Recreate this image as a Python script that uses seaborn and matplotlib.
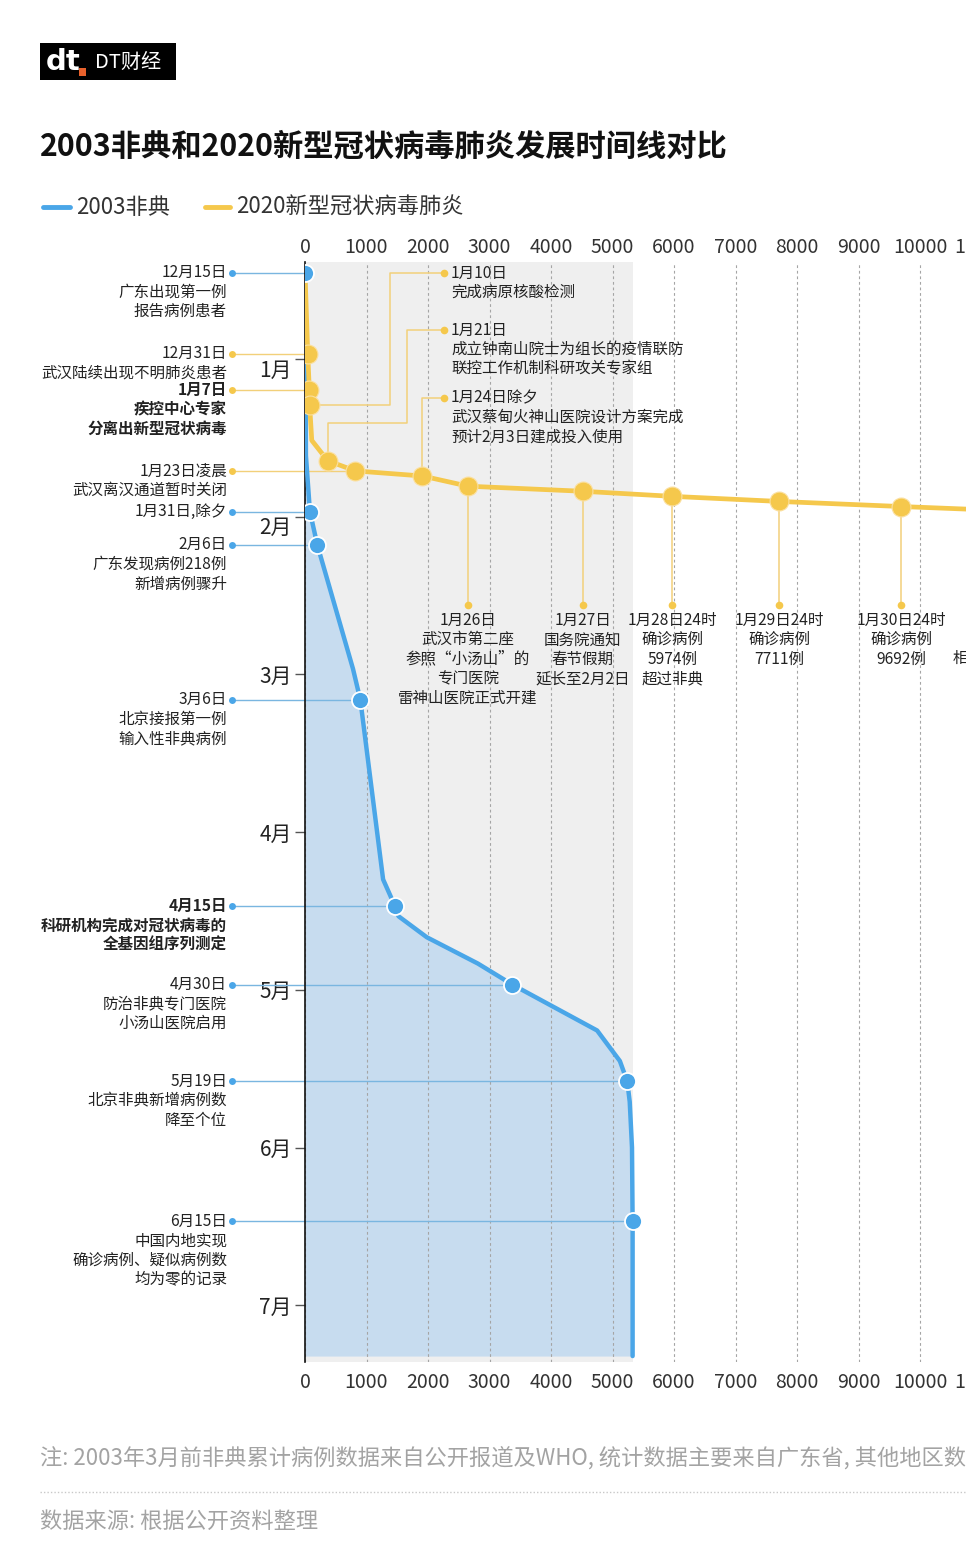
import numpy as np
import pandas as pd
import matplotlib
matplotlib.use("Agg")
import matplotlib.pyplot as plt
import seaborn as sns
from matplotlib.lines import Line2D
from matplotlib.patches import Rectangle
from matplotlib.transforms import ScaledTranslation

# ---------------- data ----------------
# 2003 SARS cumulative cases (date MM-DD, cases)
sars_dates = ["12-15", "01-20", "01-31", "02-06", "02-28", "03-06", "04-10", "04-15",
              "04-17", "04-21", "04-26", "04-30", "05-09", "05-15", "05-19", "05-23",
              "06-01", "06-15", "07-11"]
sars_cases = [0, 15, 80, 200, 780, 900, 1270, 1460,
              1520, 1980, 2810, 3370, 4750, 5120, 5240, 5280,
              5317, 5327, 5327]

# 2020 novel coronavirus pneumonia cumulative cases
ncp_dates = ["12-15", "12-31", "01-07", "01-10", "01-17", "01-21", "01-23", "01-24",
             "01-26", "01-27", "01-28", "01-29", "01-30", "01-31"]
ncp_cases = [0, 45, 70, 75, 110, 370, 820, 1910,
             2650, 4515, 5974, 7711, 9692, 11791]

sars_event_dates = ["12-15", "01-31", "02-06", "03-06", "04-15", "04-30", "05-19", "06-15"]
ncp_point_dates = ["12-31", "01-07", "01-10", "01-21", "01-23", "01-24", "01-26",
                   "01-27", "01-28", "01-29", "01-30", "01-31"]

left_label_dates = ["12-15", "12-31", "01-07", "01-23", "01-31", "02-06",
                    "03-06", "04-15", "04-30", "05-19", "06-15"]
left_label_series = ["sars", "ncp", "ncp", "ncp", "sars", "sars",
                     "sars", "sars", "sars", "sars", "sars"]
left_label_lines = [
    ["12月15日", "广东出现第一例", "报告病例患者"],
    ["12月31日", "武汉陆续出现不明肺炎患者"],
    ["1月7日", "疾控中心专家", "分离出新型冠状病毒"],
    ["1月23日凌晨", "武汉离汉通道暂时关闭"],
    ["1月31日,除夕"],
    ["2月6日", "广东发现病例218例", "新增病例骤升"],
    ["3月6日", "北京接报第一例", "输入性非典病例"],
    ["4月15日", "科研机构完成对冠状病毒的", "全基因组序列测定"],
    ["4月30日", "防治非典专门医院", "小汤山医院启用"],
    ["5月19日", "北京非典新增病例数", "降至个位"],
    ["6月15日", "中国内地实现", "确诊病例、疑似病例数", "均为零的记录"],
]
left_label_bold = [False, False, True, False, False, False, False, True, False, False, False]

top_label_dates = ["01-10", "01-21", "01-24"]
top_label_lines = [
    ["1月10日", "完成病原核酸检测"],
    ["1月21日", "成立钟南山院士为组长的疫情联防", "联控工作机制科研攻关专家组"],
    ["1月24日除夕", "武汉蔡甸火神山医院设计方案完成", "预计2月3日建成投入使用"],
]

bottom_label_dates = ["01-26", "01-27", "01-28", "01-29", "01-30", "01-31"]
bottom_label_lines = [
    ["1月26日", "武汉市第二座", "参照“小汤山”的", "专门医院", "雷神山医院正式开建"],
    ["1月27日", "国务院通知", "春节假期", "延长至2月2日"],
    ["1月28日24时", "确诊病例", "5974例", "超过非典"],
    ["1月29日24时", "确诊病例", "7711例"],
    ["1月30日24时", "确诊病例", "9692例"],
    ["1月31日24时", "确诊病例11791例", "相当于非典病例两倍多"],
]

month_ticks = [1, 2, 3, 4, 5, 6, 7]
month_labels = ["1月", "2月", "3月", "4月", "5月", "6月", "7月"]
case_ticks = [0, 1000, 2000, 3000, 4000, 5000, 6000, 7000, 8000, 9000, 10000, 11000]

title = "2003非典和2020新型冠状病毒肺炎发展时间线对比"
legend_labels = ["2003非典", "2020新型冠状病毒肺炎"]
note_text = "注: 2003年3月前非典累计病例数据来自公开报道及WHO, 统计数据主要来自广东省, 其他地区数据暂未统计"
source_text = "数据来源: 根据公开资料整理"

# ---------------- helpers ----------------
DAYS = {12: 31, 1: 31, 2: 28, 3: 31, 4: 30, 5: 31, 6: 30, 7: 31}


def ypos(s):
    m, d = map(int, s.split("-"))
    idx = 0 if m == 12 else m
    return idx + (d - 1) / DAYS[m]


# layout (pixel geometry of the canvas)
W, H = 966, 1548
PX_X0, PX_PER_CASE = 305, 0.0615
PX_M1, PX_PER_MONTH = 359, 157.7


def px2x(px):
    return (px - PX_X0) / PX_PER_CASE


def px2y(py):
    return 1 + (py - PX_M1) / PX_PER_MONTH


BLUE = "#4aa6e8"
BLUE_FILL = "#c7dcef"
BLUE_CONN = "#7ab6e0"
YELLOW = "#f5c84c"
YEL_CONN = "#f2d07a"
GRAY_BG = "#efefef"
TXT = "#222222"
LINE_PT = 19.6 * 72 / 100  # line step in points

sns.set_style("white")
plt.rcParams["font.family"] = ["Noto Sans CJK SC", "DejaVu Sans"]
plt.rcParams["axes.unicode_minus"] = False

fig = plt.figure(figsize=(W / 100, H / 100), dpi=100)
fig.patch.set_facecolor("white")

top_px, bot_px = 262, 1362
ax = fig.add_axes([PX_X0 / W, (H - bot_px) / H,
                   (11000 * PX_PER_CASE) / W, (bot_px - top_px) / H])
ax.set_xlim(0, 11000)
ax.set_ylim(px2y(bot_px), px2y(top_px))
ax.set_facecolor("white")

df_s = pd.DataFrame({"date": sars_dates, "cases": sars_cases})
df_s["y"] = df_s["date"].map(ypos)
df_n = pd.DataFrame({"date": ncp_dates, "cases": ncp_cases})
df_n["y"] = df_n["date"].map(ypos)
s_map = dict(zip(sars_dates, sars_cases))
n_map = dict(zip(ncp_dates, ncp_cases))

# gray background band up to SARS total
ax.axvspan(0, max(sars_cases), color=GRAY_BG, lw=0, zorder=0.2)
# SARS area
ax.fill_betweenx(df_s["y"], 0, df_s["cases"], color=BLUE_FILL, lw=0, zorder=1)

ax.set_axisbelow("line")
ax.grid(axis="x", color="#a5a5a5", ls=(0, (2.5, 2.5)), lw=0.8)
ax.grid(axis="y", visible=False)

sns.lineplot(data=df_s, x="cases", y="y", sort=False, estimator=None,
             color=BLUE, lw=3.2, ax=ax, zorder=3)
sns.lineplot(data=df_n, x="cases", y="y", sort=False, estimator=None,
             color=YELLOW, lw=3.4, ax=ax, zorder=4)

ev_s = df_s[df_s["date"].isin(sars_event_dates)]
ev_n = df_n[df_n["date"].isin(ncp_point_dates)]
sns.scatterplot(data=ev_n, x="cases", y="y", s=185, color=YELLOW, edgecolor="#fbe0a0",
                linewidth=0.8, ax=ax, zorder=5, legend=False)
sns.scatterplot(data=ev_s, x="cases", y="y", s=150, color=BLUE, edgecolor="white",
                linewidth=1.3, ax=ax, zorder=6, legend=False)

ax.set_xlabel("")
ax.set_ylabel("")

# axes styling
for s in ["top", "right", "bottom"]:
    ax.spines[s].set_visible(False)
ax.spines["left"].set_color("#111111")
ax.spines["left"].set_linewidth(1.2)
ax.spines["left"].set_zorder(2.5)

ax.set_xticks(case_ticks)
ax.set_xticklabels([str(t) for t in case_ticks])
ax.tick_params(axis="x", top=False, bottom=False, labeltop=True, labelbottom=True,
               labelsize=14, pad=4, labelcolor="#333333")
for t in ax.xaxis.get_major_ticks():
    t.label2.set_transform(t.label2.get_transform() +
                           ScaledTranslation(0, -4.3 / 72, fig.dpi_scale_trans))
ax.set_yticks(month_ticks)
ax.set_yticklabels(month_labels)
ax.tick_params(axis="y", left=True, length=7.5, width=1.0, color="#555555",
               labelsize=15, pad=2, labelcolor=TXT)
for lbl in ax.get_yticklabels()[:2]:
    lbl.set_transform(lbl.get_transform() + ScaledTranslation(0, -6.5 / 72, fig.dpi_scale_trans))

# left event labels
X_LDOT, X_LTEXT = px2x(232), px2x(227)
for d, ser, lines, bold in zip(left_label_dates, left_label_series, left_label_lines, left_label_bold):
    y = ypos(d)
    if ser == "sars":
        xp, conn, dotc = s_map[d], BLUE_CONN, BLUE
    else:
        xp, conn, dotc = n_map[d], YEL_CONN, YELLOW
    ax.plot([X_LDOT, xp], [y, y], color=conn, lw=1.0, zorder=2.2, clip_on=False)
    ax.plot([X_LDOT], [y], "o", ms=5, color=dotc, mec="none", zorder=2.3, clip_on=False)
    for i, line in enumerate(lines):
        ax.annotate(line, (X_LTEXT, y), xytext=(0, -i * LINE_PT), textcoords="offset points",
                    ha="right", va="center", fontsize=11.2,
                    fontweight="bold" if bold else "normal", color=TXT, annotation_clip=False)

# top-right labels with elbow connectors
X_TDOT, X_TTEXT = px2x(444), px2x(451)
top_label_py = [273, 330, 398]
for k, (d, lines, lpy) in enumerate(zip(top_label_dates, top_label_lines, top_label_py)):
    xp, yp = n_map[d], ypos(d)
    yl = px2y(lpy)
    if k == 0:
        xs = [xp, px2x(390), px2x(390), X_TDOT]
        ys = [yp, yp, yl, yl]
    elif k == 1:
        xs = [xp, xp, px2x(407), px2x(407), X_TDOT]
        ys = [yp, px2y(423), px2y(423), yl, yl]
    else:
        xs = [xp, xp, X_TDOT]
        ys = [yp, yl, yl]
    ax.plot(xs, ys, color=YEL_CONN, lw=1.1, zorder=2.4, clip_on=False)
    ax.plot([X_TDOT], [yl], "o", ms=5.5, color=YELLOW, mec="none", zorder=2.5)
    for i, line in enumerate(lines):
        ax.annotate(line, (X_TTEXT, yl), xytext=(0, -i * LINE_PT), textcoords="offset points",
                    ha="left", va="center", fontsize=11.2, color=TXT, annotation_clip=False)

# bottom labels hanging from yellow points
Y_BDOT, Y_BTEXT = px2y(605), px2y(620)
for d, lines in zip(bottom_label_dates, bottom_label_lines):
    xp, yp = n_map[d], ypos(d)
    ax.plot([xp, xp], [yp, Y_BDOT], color=YEL_CONN, lw=1.1, zorder=2.4, clip_on=False)
    ax.plot([xp], [Y_BDOT], "o", ms=5.5, color=YELLOW, mec="none", zorder=2.5, clip_on=False)
    for i, line in enumerate(lines):
        ax.annotate(line, (xp, Y_BTEXT), xytext=(0, -i * LINE_PT), textcoords="offset points",
                    ha="center", va="center", fontsize=11.2, color=TXT, annotation_clip=False)

# ---------------- header ----------------
fig.patches.append(Rectangle((40 / W, 1 - 80 / H), 136 / W, 37 / H, transform=fig.transFigure,
                             facecolor="black", edgecolor="none", zorder=1))
fig.text(46 / W, 1 - 62 / H, "dt", color="white", fontsize=21, fontweight="heavy",
         family="DejaVu Sans", va="center", ha="left", zorder=2)
fig.patches.append(Rectangle((79 / W, 1 - 76 / H), 7 / W, 8 / H, transform=fig.transFigure,
                             facecolor="#e8612c", edgecolor="none", zorder=2))
fig.text(95 / W, 1 - 62 / H, "DT财经", color="white", fontsize=14.5, va="center", ha="left", zorder=2)

fig.text(40 / W, 1 - 147 / H, title, fontsize=21.8, fontweight="bold", color="#111111",
         va="center", ha="left")

# legend
fig.lines.append(Line2D([43 / W, 70 / W], [1 - 207 / H, 1 - 207 / H], transform=fig.transFigure,
                        color=BLUE, lw=3.5, solid_capstyle="round"))
fig.text(76 / W, 1 - 207 / H, legend_labels[0], fontsize=16, color="#333333", va="center", ha="left")
fig.lines.append(Line2D([205 / W, 230 / W], [1 - 207 / H, 1 - 207 / H], transform=fig.transFigure,
                        color=YELLOW, lw=3.5, solid_capstyle="round"))
fig.text(236 / W, 1 - 207 / H, legend_labels[1], fontsize=16, color="#333333", va="center", ha="left")

# ---------------- footer ----------------
fig.text(40 / W, 1 - 1458 / H, note_text, fontsize=16, color="#a3a3a3", va="center", ha="left")
fig.lines.append(Line2D([40 / W, 1.0], [1 - 1492 / H, 1 - 1492 / H], transform=fig.transFigure,
                        color="#c8c8c8", lw=1.0, ls=(0, (1, 1.5))))
fig.text(40 / W, 1 - 1521 / H, source_text, fontsize=16, color="#a3a3a3", va="center", ha="left")

fig.savefig("out.png", dpi=100, facecolor="white")
